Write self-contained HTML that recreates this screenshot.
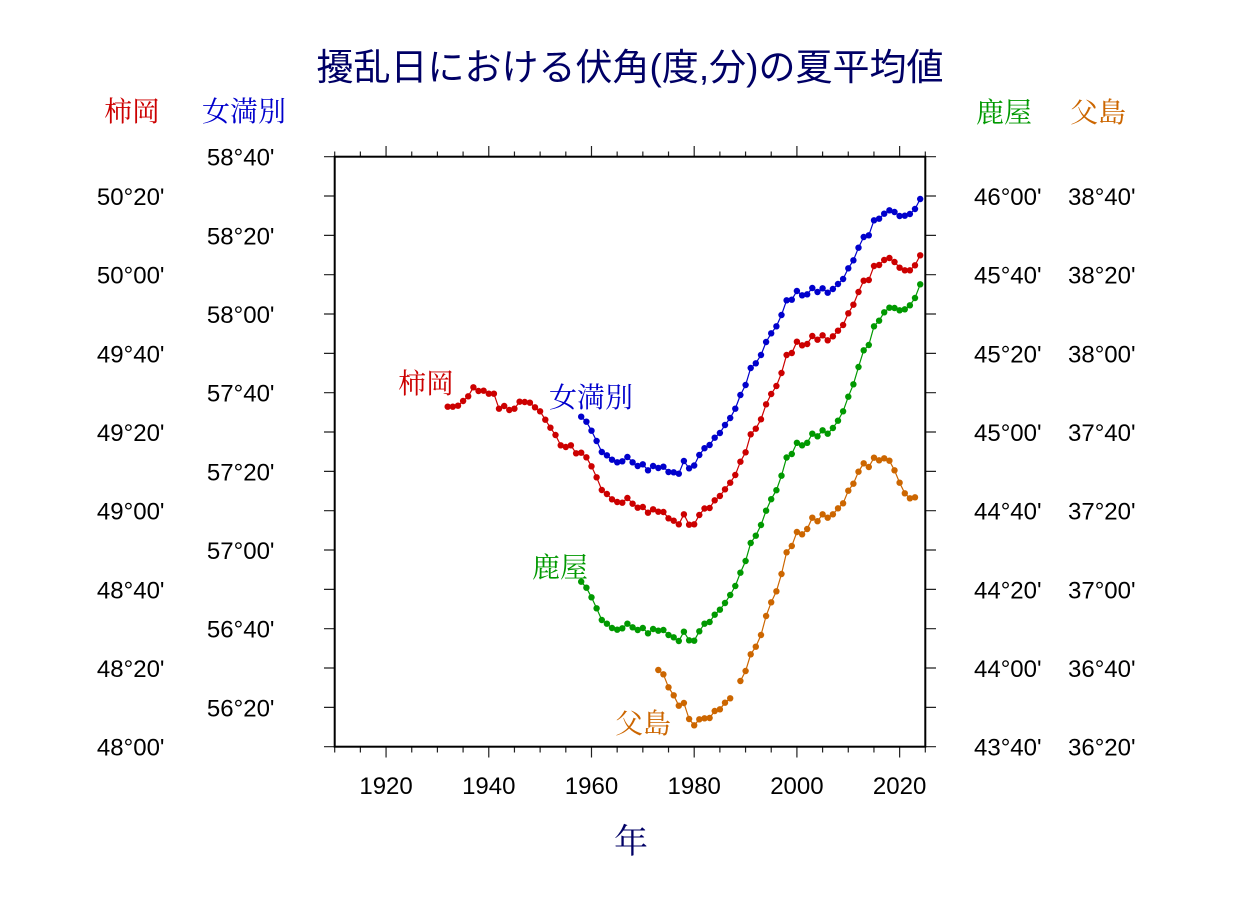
<!DOCTYPE html>
<html>
<head>
<meta charset="utf-8">
<style>
  html, body { margin:0; padding:0; background:#ffffff; }
  body { width:1233px; height:907px; overflow:hidden; }
  svg { display:block; }
  .tl { font-family:"Liberation Sans", sans-serif; font-size:24px; fill:#000; }
  .st { font-family:"Liberation Serif", "Noto Serif CJK SC", serif; font-size:28px; }
</style>
</head>
<body>
<svg width="1233" height="907" viewBox="0 0 1233 907" xmlns="http://www.w3.org/2000/svg">
  <defs>
    <marker id="mr" markerWidth="8" markerHeight="8" refX="4" refY="4" markerUnits="userSpaceOnUse"><circle cx="4" cy="4" r="3.2" fill="#cc0000"/></marker>
    <marker id="mb" markerWidth="8" markerHeight="8" refX="4" refY="4" markerUnits="userSpaceOnUse"><circle cx="4" cy="4" r="3.2" fill="#0000cc"/></marker>
    <marker id="mg" markerWidth="8" markerHeight="8" refX="4" refY="4" markerUnits="userSpaceOnUse"><circle cx="4" cy="4" r="3.2" fill="#009900"/></marker>
    <marker id="mo" markerWidth="8" markerHeight="8" refX="4" refY="4" markerUnits="userSpaceOnUse"><circle cx="4" cy="4" r="3.2" fill="#cc6600"/></marker>
  </defs>

  <!-- Title -->
  <text x="630" y="80" text-anchor="middle" fill="#000066" style="font-family:'Liberation Sans','Noto Sans CJK JP',sans-serif;font-size:37px;">擾乱日における伏角(度,分)の夏平均値</text>

  <!-- Axis headers -->
  <text class="st" x="104" y="121" fill="#cc0000">柿岡</text>
  <text class="st" x="202" y="121" fill="#0000cc">女満別</text>
  <text class="st" x="976" y="122" fill="#009900">鹿屋</text>
  <text class="st" x="1070" y="122" fill="#cc6600">父島</text>

  <!-- Left / right ticks -->
  <g stroke="#222" stroke-width="1.2">
    <path d="M324 156.7H334.7M324 196.03H334.7M324 235.37H334.7M324 274.7H334.7M324 314.03H334.7M324 353.37H334.7M324 392.7H334.7M324 432.03H334.7M324 471.37H334.7M324 510.7H334.7M324 550.03H334.7M324 589.37H334.7M324 628.7H334.7M324 668.03H334.7M324 707.37H334.7M324 746.7H334.7"/>
    <path d="M925.3 156.7H936M925.3 196.03H936M925.3 235.37H936M925.3 274.7H936M925.3 314.03H936M925.3 353.37H936M925.3 392.7H936M925.3 432.03H936M925.3 471.37H936M925.3 510.7H936M925.3 550.03H936M925.3 589.37H936M925.3 628.7H936M925.3 668.03H936M925.3 707.37H936M925.3 746.7H936"/>
    <!-- top minor -->
    <path d="M334.7 151.5V156.7M360.38 151.5V156.7M411.74 151.5V156.7M437.41 151.5V156.7M463.09 151.5V156.7M514.45 151.5V156.7M540.13 151.5V156.7M565.81 151.5V156.7M617.16 151.5V156.7M642.84 151.5V156.7M668.52 151.5V156.7M719.88 151.5V156.7M745.56 151.5V156.7M771.23 151.5V156.7M822.59 151.5V156.7M848.27 151.5V156.7M873.95 151.5V156.7M925.31 151.5V156.7"/>
    <!-- top major -->
    <path d="M386.06 146V156.7M488.77 146V156.7M591.49 146V156.7M694.2 146V156.7M796.91 146V156.7M899.63 146V156.7"/>
    <!-- bottom minor -->
    <path d="M334.7 746.7V752.5M360.38 746.7V752.5M411.74 746.7V752.5M437.41 746.7V752.5M463.09 746.7V752.5M514.45 746.7V752.5M540.13 746.7V752.5M565.81 746.7V752.5M617.16 746.7V752.5M642.84 746.7V752.5M668.52 746.7V752.5M719.88 746.7V752.5M745.56 746.7V752.5M771.23 746.7V752.5M822.59 746.7V752.5M848.27 746.7V752.5M873.95 746.7V752.5M925.31 746.7V752.5"/>
    <!-- bottom major -->
    <path d="M386.06 746.7V757.5M488.77 746.7V757.5M591.49 746.7V757.5M694.2 746.7V757.5M796.91 746.7V757.5M899.63 746.7V757.5"/>
  </g>

  <!-- Frame -->
  <rect x="334.7" y="156.7" width="590.6" height="590" fill="none" stroke="#000" stroke-width="2"/>

  <!-- Left outer labels (柿岡) -->
  <g class="tl" text-anchor="end">
    <text x="164.5" y="205">50°20'</text>
    <text x="164.5" y="283.7">50°00'</text>
    <text x="164.5" y="362.4">49°40'</text>
    <text x="164.5" y="441">49°20'</text>
    <text x="164.5" y="519.7">49°00'</text>
    <text x="164.5" y="598.4">48°40'</text>
    <text x="164.5" y="677">48°20'</text>
    <text x="164.5" y="755.7">48°00'</text>
  </g>
  <!-- Left inner labels (女満別) -->
  <g class="tl" text-anchor="end">
    <text x="274.5" y="165.7">58°40'</text>
    <text x="274.5" y="244.4">58°20'</text>
    <text x="274.5" y="323">58°00'</text>
    <text x="274.5" y="401.7">57°40'</text>
    <text x="274.5" y="480.4">57°20'</text>
    <text x="274.5" y="559">57°00'</text>
    <text x="274.5" y="637.7">56°40'</text>
    <text x="274.5" y="716.4">56°20'</text>
  </g>
  <!-- Right inner labels (鹿屋) -->
  <g class="tl" text-anchor="start">
    <text x="974" y="205">46°00'</text>
    <text x="974" y="283.7">45°40'</text>
    <text x="974" y="362.4">45°20'</text>
    <text x="974" y="441">45°00'</text>
    <text x="974" y="519.7">44°40'</text>
    <text x="974" y="598.4">44°20'</text>
    <text x="974" y="677">44°00'</text>
    <text x="974" y="755.7">43°40'</text>
  </g>
  <!-- Right outer labels (父島) -->
  <g class="tl" text-anchor="start">
    <text x="1068" y="205">38°40'</text>
    <text x="1068" y="283.7">38°20'</text>
    <text x="1068" y="362.4">38°00'</text>
    <text x="1068" y="441">37°40'</text>
    <text x="1068" y="519.7">37°20'</text>
    <text x="1068" y="598.4">37°00'</text>
    <text x="1068" y="677">36°40'</text>
    <text x="1068" y="755.7">36°20'</text>
  </g>

  <!-- X labels -->
  <g class="tl" text-anchor="middle">
    <text x="386.06" y="794">1920</text>
    <text x="488.77" y="794">1940</text>
    <text x="591.49" y="794">1960</text>
    <text x="694.2" y="794">1980</text>
    <text x="796.91" y="794">2000</text>
    <text x="899.63" y="794">2020</text>
  </g>
  <text x="631" y="853" text-anchor="middle" fill="#000066" style="font-family:'Liberation Serif','Noto Serif CJK SC',serif;font-size:34px;">年</text>

  <!-- Series -->
  <g fill="none" stroke-width="1.2">
    <polyline stroke="#cc0000" marker-start="url(#mr)" marker-mid="url(#mr)" marker-end="url(#mr)" points="447.7,406.7 452.8,406.7 458.0,405.7 463.1,401 468.2,396.3 473.4,387.3 478.5,391 483.6,390.7 488.8,393.7 493.9,393.7 499.0,408.7 504.2,406 509.3,410 514.4,408.7 519.6,401.7 524.7,402 529.9,402.7 535.0,407.3 540.1,411.3 545.3,419.7 550.4,427.7 555.5,435 560.7,445.3 565.8,447 570.9,445.3 576.1,453.3 581.2,452.7 586.4,457.3 591.5,466.3 596.6,477.3 601.8,490 606.9,494 612.0,499.3 617.2,502 622.3,502.7 627.4,498 632.6,503.7 637.7,507.7 642.8,507 648.0,512.7 653.1,509.3 658.3,511.7 663.4,512 668.5,518.3 673.7,520.7 678.8,524.3 683.9,514.3 689.1,524.7 694.2,524.3 699.3,515 704.5,508.5 709.6,508 714.7,500.3 719.9,496 725.0,489.3 730.2,482.7 735.3,475 740.4,461.7 745.6,452.3 750.7,434.3 755.8,428.7 761.0,419.3 766.1,404.3 771.2,394 776.4,386 781.5,373 786.6,355 791.8,353 796.9,341.7 802.1,345.3 807.2,344 812.3,336 817.5,339.7 822.6,335.3 827.7,340.3 832.9,336.3 838.0,330.7 843.1,325 848.3,313.3 853.4,304.7 858.5,292 863.7,280.7 868.8,280 874.0,266 879.1,265 884.2,260 889.4,258 894.5,262 899.6,267.7 904.8,270.3 909.9,270.3 915.0,265.3 920.2,255.3"/>
    <polyline stroke="#0000cc" marker-start="url(#mb)" marker-mid="url(#mb)" marker-end="url(#mb)" points="581.2,416.7 586.4,421.7 591.5,430.7 596.6,441 601.8,452 606.9,455.3 612.0,459.7 617.2,462.3 622.3,461.3 627.4,457 632.6,462.3 637.7,466 642.8,464.3 648.0,470.3 653.1,466 658.3,468 663.4,466.7 668.5,472 673.7,472.3 678.8,473.7 683.9,461 689.1,468.3 694.2,465.5 699.3,455 704.5,448.2 709.6,445 714.7,437.7 719.9,433 725.0,425 730.2,418 735.3,408.7 740.4,395 745.6,385 750.7,368 755.8,363.3 761.0,355 766.1,342 771.2,333.3 776.4,326.3 781.5,315 786.6,300.3 791.8,299.7 796.9,291 802.1,295.3 807.2,294.3 812.3,288 817.5,292 822.6,288.3 827.7,292.7 832.9,289 838.0,284 843.1,279 848.3,268.3 853.4,260.3 858.5,247.7 863.7,237 868.8,235.3 874.0,220.3 879.1,218.7 884.2,213.7 889.4,210.3 894.5,212 899.6,216 904.8,215.7 909.9,214 915.0,209 920.2,199"/>
    <polyline stroke="#009900" marker-start="url(#mg)" marker-mid="url(#mg)" marker-end="url(#mg)" points="581.2,581.7 586.4,587.7 591.5,597.3 596.6,608.3 601.8,620 606.9,623.7 612.0,628 617.2,629.7 622.3,628.3 627.4,623.7 632.6,627.3 637.7,630 642.8,628 648.0,633.3 653.1,629 658.3,630.7 663.4,630 668.5,635 673.7,637.3 678.8,641 683.9,631.7 689.1,640.3 694.2,640.7 699.3,631.3 704.5,623.7 709.6,622 714.7,614.7 719.9,609.7 725.0,603 730.2,595 735.3,586 740.4,572.7 745.6,561 750.7,543 755.8,535.7 761.0,525 766.1,510.7 771.2,499.2 776.4,490.2 781.5,475.7 786.6,457.5 791.8,454 796.9,442.8 802.1,445.3 807.2,442.8 812.3,433.7 817.5,436.3 822.6,430.3 827.7,433.7 832.9,428 838.0,420.7 843.1,411.3 848.3,396.7 853.4,384.3 858.5,367 863.7,350.3 868.8,345 874.0,326.3 879.1,320.7 884.2,312.3 889.4,307.7 894.5,308 899.6,310.3 904.8,309.3 909.9,305.3 915.0,298 920.2,284.3"/>
    <polyline stroke="#cc6600" marker-start="url(#mo)" marker-mid="url(#mo)" marker-end="url(#mo)" points="658.3,670 663.4,674.3 668.5,687.3 673.7,695.3 678.8,705.7 683.9,703 689.1,719 694.2,725.3 699.3,719.3 704.5,718.3 709.6,718 714.7,711 719.9,709.3 725.0,702.7 730.2,698.3"/>
    <polyline stroke="#cc6600" marker-start="url(#mo)" marker-mid="url(#mo)" marker-end="url(#mo)" points="740.4,681 745.6,671 750.7,654.3 755.8,646.7 761.0,635 766.1,616 771.2,602.3 776.4,591.3 781.5,574 786.6,552.3 791.8,546 796.9,532 802.1,534.3 807.2,529 812.3,517.7 817.5,521.2 822.6,514.3 827.7,517.7 832.9,514.3 838.0,508.3 843.1,503.3 848.3,490.7 853.4,483.7 858.5,471.7 863.7,463.3 868.8,467 874.0,457.7 879.1,460.3 884.2,458.3 889.4,460.7 894.5,470.3 899.6,482.7 904.8,493.3 909.9,498.3 915.0,497.3"/>
  </g>

  <!-- In-plot station labels -->
  <text class="st" x="398" y="393" fill="#cc0000">柿岡</text>
  <text class="st" x="549" y="407" fill="#0000cc">女満別</text>
  <text class="st" x="532" y="577" fill="#009900">鹿屋</text>
  <text class="st" x="615" y="733" fill="#cc6600">父島</text>
</svg>
</body>
</html>
